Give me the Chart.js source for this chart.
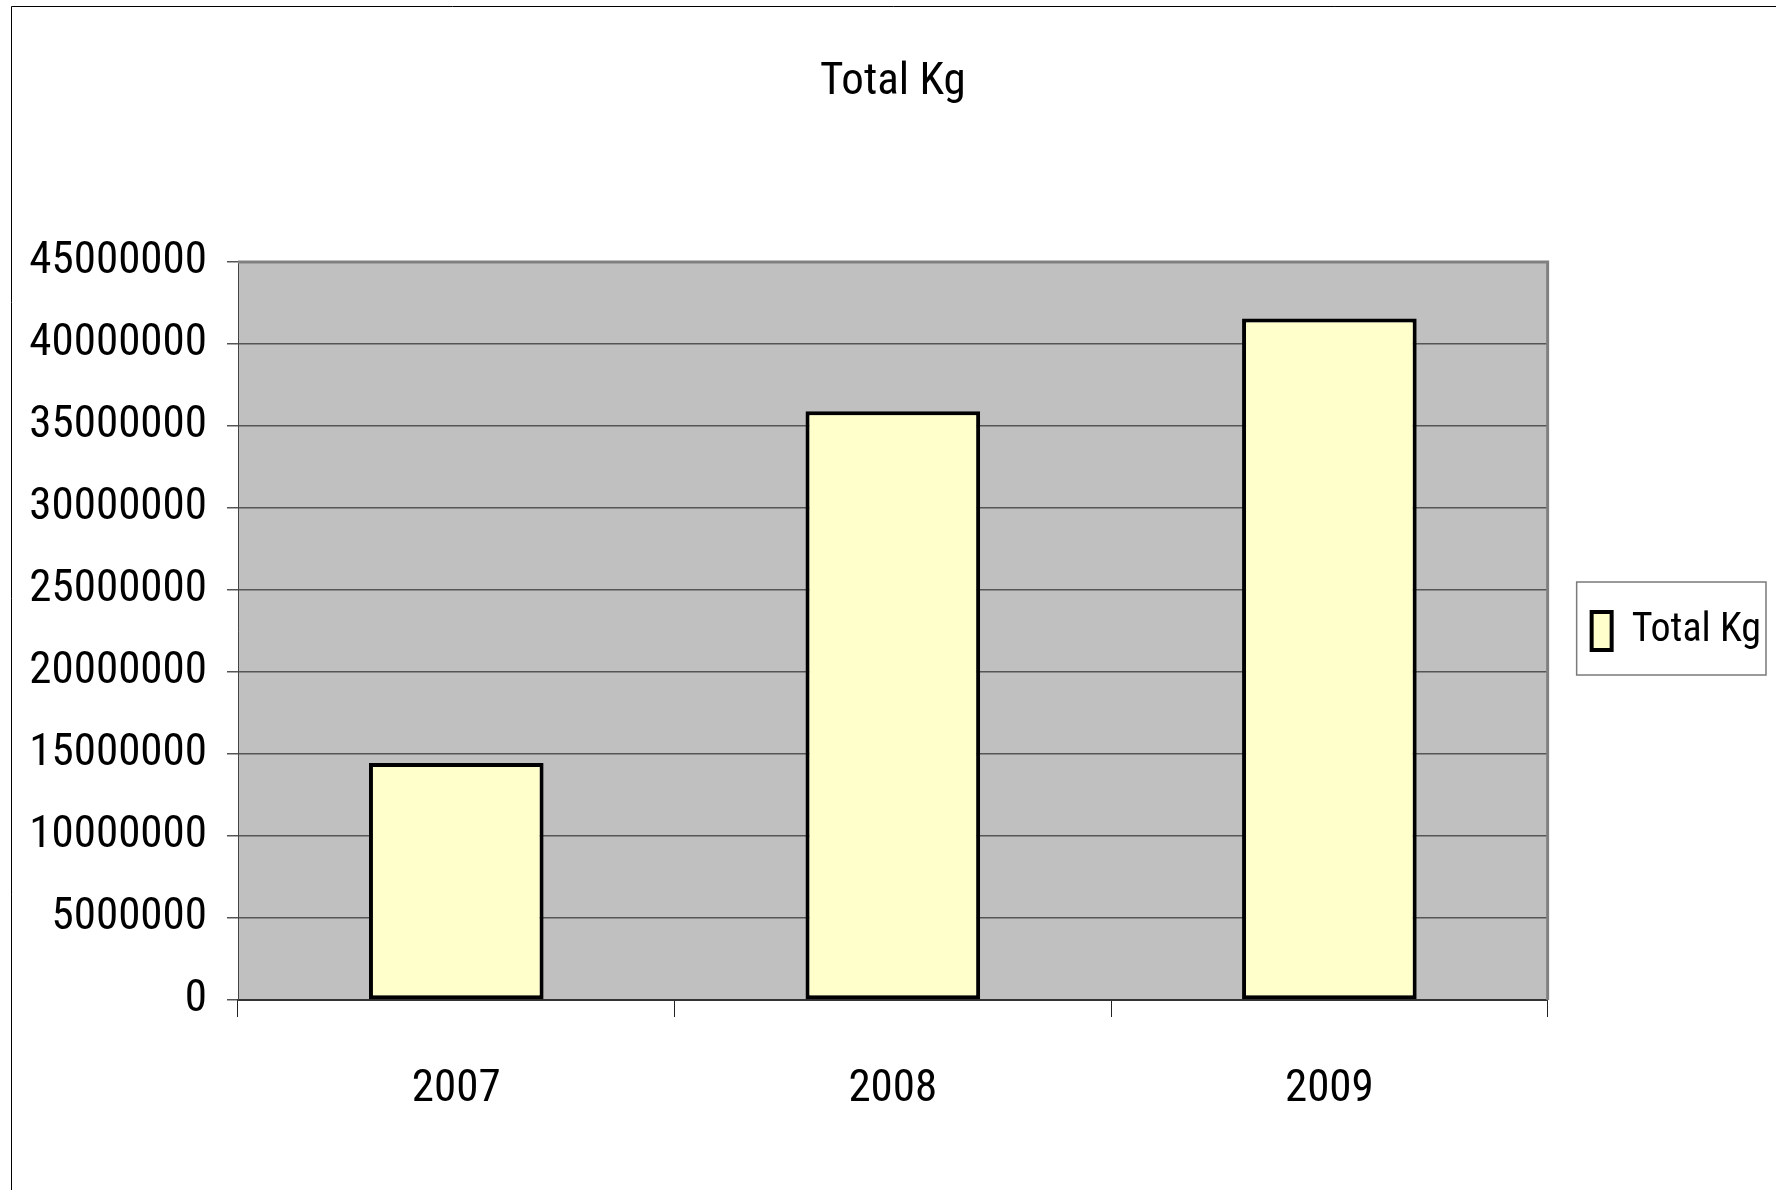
<!DOCTYPE html>
<html>
<head>
<meta charset="utf-8">
<title>Total Kg</title>
<script src="https://cdn.jsdelivr.net/npm/chart.js@4.4.1/dist/chart.umd.min.js"></script>
<style>
  html, body { margin: 0; padding: 0; background: #fff; }
  canvas { display: block; }
</style>
</head>
<body>
<canvas id="chart" width="1776" height="1190"></canvas>
<script>
// yearly totals, kg
const years = ['2007', '2008', '2009'];
const totalKg = [14450000, 35900000, 41550000];
const seriesLabel = 'Total Kg';
const yTickValues = [0, 5000000, 10000000, 15000000, 20000000, 25000000, 30000000, 35000000, 40000000, 45000000];

const FONT = "'Liberation Sans Narrow', 'Arial Narrow', 'Roboto Condensed', sans-serif";
Chart.defaults.font.family = FONT;
Chart.defaults.font.size = 45;
Chart.defaults.color = '#000';

// white page with the thin outer frame, grey plot area, legend box
const chartFrame = {
  id: 'chartFrame',
  beforeDraw(chart) {
    const { ctx, chartArea: a } = chart;
    ctx.save();
    ctx.fillStyle = '#fff';
    ctx.fillRect(0, 0, chart.width, chart.height);
    ctx.strokeStyle = '#000';
    ctx.lineWidth = 1;
    ctx.beginPath();
    ctx.moveTo(11.5, chart.height);
    ctx.lineTo(11.5, 6.5);
    ctx.lineTo(chart.width, 6.5);
    ctx.stroke();
    ctx.fillStyle = '#c0c0c0';
    ctx.fillRect(a.left, a.top, a.width, a.height);
    ctx.restore();
  },
  afterDraw(chart) {
    const { ctx, chartArea: a } = chart;
    ctx.save();
    ctx.strokeStyle = '#808080';
    ctx.lineWidth = 3;
    ctx.beginPath();
    ctx.moveTo(a.left, a.top);
    ctx.lineTo(a.right, a.top);
    ctx.lineTo(a.right, a.bottom);
    ctx.stroke();

    const hb = chart.legend.legendHitBoxes[0];
    if (hb) {
      ctx.lineWidth = 1.5;
      ctx.strokeStyle = '#7a7a7a';
      ctx.strokeRect(hb.left - 15, hb.top - 29, hb.width + 20, hb.height + 53);
    }
    ctx.restore();
  }
};

new Chart(document.getElementById('chart'), {
  type: 'bar',
  data: {
    labels: years,
    datasets: [{
      label: seriesLabel,
      data: totalKg,
      backgroundColor: '#ffffcc',
      borderColor: '#000',
      borderWidth: 4,
      borderSkipped: false,
      barPercentage: 0.4,
      categoryPercentage: 1.0
    }]
  },
  options: {
    responsive: false,
    animation: false,
    devicePixelRatio: 1,
    layout: { padding: { left: 0, right: 5, top: 0, bottom: 0 } },
    plugins: {
      title: {
        display: true,
        fullSize: false,
        text: seriesLabel,
        color: '#000',
        font: { size: 45, weight: 'normal' },
        padding: { top: 56, bottom: 152 }
      },
      legend: {
        position: 'right',
        fullSize: false,
        labels: { boxWidth: 20, boxHeight: 38, padding: 44, color: '#000', font: { size: 40 } }
      },
      tooltip: { enabled: false }
    },
    scales: {
      x: {
        grid: { offset: true, drawOnChartArea: false, tickLength: 17, color: '#222', lineWidth: 1 },
        border: { color: '#333', width: 2 },
        ticks: { padding: 46, color: '#000' },
        afterFit: s => { s.height = 190; }
      },
      y: {
        min: 0,
        max: 45000000,
        afterBuildTicks: s => { s.ticks = yTickValues.map(v => ({ value: v })); },
        grid: { color: '#555', lineWidth: 1.5, tickLength: 11 },
        border: { color: '#444', width: 1 },
        ticks: { padding: 20, color: '#000', callback: v => String(v) },
        afterFit: s => { s.width = 238; }
      }
    }
  },
  plugins: [chartFrame]
});
</script>
</body>
</html>
